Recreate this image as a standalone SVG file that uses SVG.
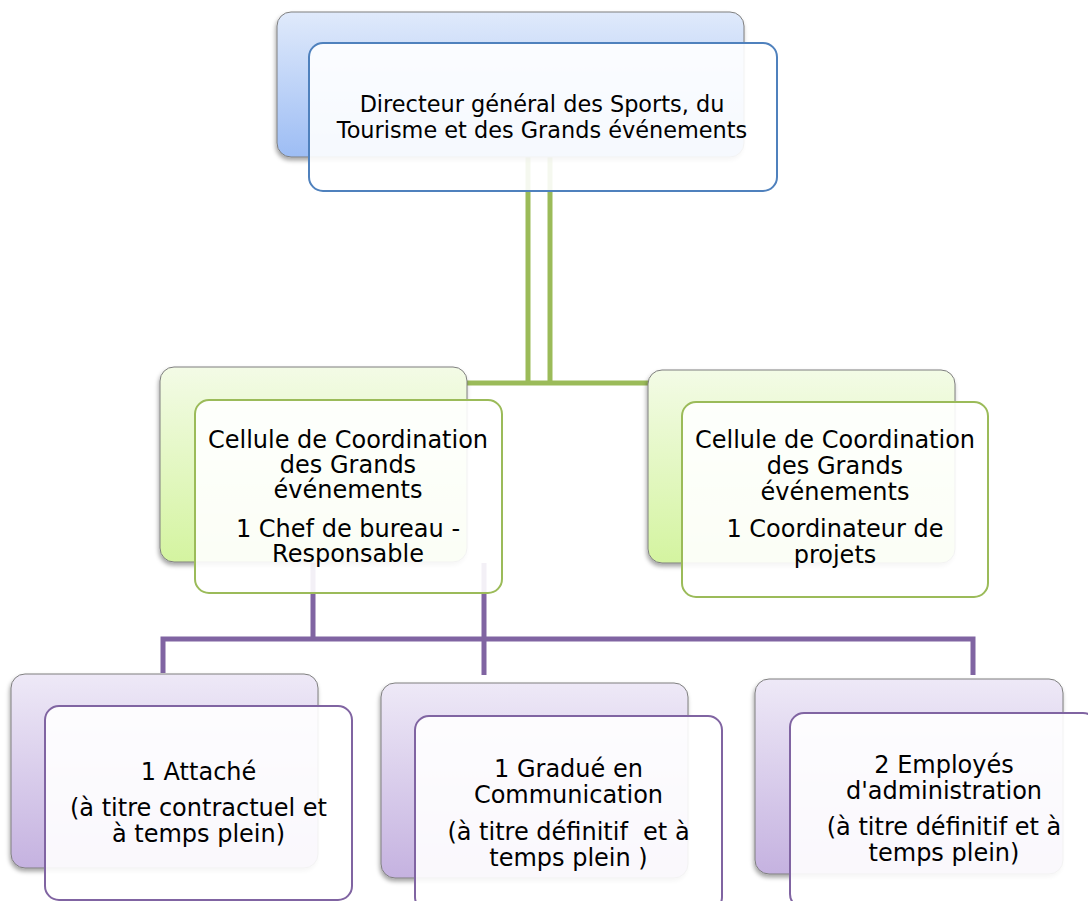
<svg xmlns="http://www.w3.org/2000/svg" width="1088" height="901" viewBox="0 0 1088 901">
<defs>
<linearGradient id="gBlue" x1="0" y1="0" x2="0" y2="1"><stop offset="0" stop-color="#e0eafb"/><stop offset="1" stop-color="#9dbdf4"/></linearGradient>
<linearGradient id="gGreen" x1="0" y1="0" x2="0" y2="1"><stop offset="0" stop-color="#f3fbe6"/><stop offset="1" stop-color="#d4f4a0"/></linearGradient>
<linearGradient id="gPurple" x1="0" y1="0" x2="0" y2="1"><stop offset="0" stop-color="#eee9f7"/><stop offset="1" stop-color="#c5b2e0"/></linearGradient>
<filter id="sh" x="-10%" y="-10%" width="120%" height="130%"><feDropShadow dx="-1" dy="3" stdDeviation="2" flood-color="#000" flood-opacity="0.35"/></filter>
<style>
.back{stroke:#7f7f7f;stroke-width:1;filter:url(#sh)}
.front{fill:#fff;fill-opacity:0.9;stroke-width:2}
.b{stroke:#4f81bd}.g{stroke:#9bbb59}.p{stroke:#8064a2}
.lg{stroke:#9bbb59;stroke-width:5;fill:none}
.lp{stroke:#8064a2;stroke-width:5;fill:none}
text{font-family:"DejaVu Sans","Verdana",sans-serif;font-size:24px;fill:#000;text-anchor:middle}
.t1{font-size:22.4px}
</style>
</defs>
<rect width="1088" height="901" fill="#fff"/>
<g id="connectors">
<path class="lg" d="M528,157 V383 M550,157 V383 M467,383 H648"/>
<path class="lp" d="M313,563 V639 M484,563 V675 M163,673 V639 H973 V675"/>
</g>
<g id="n-directeur">
<rect class="back" x="277" y="12" width="467" height="145" rx="14" fill="url(#gBlue)"/>
<rect class="front b" x="309" y="43" width="468" height="148" rx="14"/>
<text class="t1" x="542" y="112">Directeur général des Sports, du</text>
<text class="t1" x="542" y="138">Tourisme et des Grands événements</text>
</g>
<g id="n-cellule1">
<rect class="back" x="160" y="367" width="307" height="195" rx="14" fill="url(#gGreen)"/>
<rect class="front g" x="195" y="400" width="307" height="193" rx="14"/>
<text x="348" y="448">Cellule de Coordination</text>
<text x="348" y="473">des Grands</text>
<text x="348" y="498">événements</text>
<text x="348" y="537">1 Chef de bureau -</text>
<text x="348" y="562">Responsable</text>
</g>
<g id="n-cellule2">
<rect class="back" x="648" y="370" width="307" height="193" rx="14" fill="url(#gGreen)"/>
<rect class="front g" x="682" y="402" width="306" height="195" rx="14"/>
<text x="835" y="448">Cellule de Coordination</text>
<text x="835" y="474">des Grands</text>
<text x="835" y="500">événements</text>
<text x="835" y="537">1 Coordinateur de</text>
<text x="835" y="563">projets</text>
</g>
<g id="n-attache">
<rect class="back" x="11" y="674" width="307" height="194" rx="14" fill="url(#gPurple)"/>
<rect class="front p" x="45" y="706" width="307" height="194" rx="14"/>
<text x="198.5" y="780">1 Attaché</text>
<text x="198.5" y="816">(à titre contractuel et</text>
<text x="198.5" y="842">à temps plein)</text>
</g>
<g id="n-gradue">
<rect class="back" x="381" y="683" width="307" height="195" rx="14" fill="url(#gPurple)"/>
<rect class="front p" x="415" y="716" width="307" height="195" rx="14"/>
<text x="568.5" y="777">1 Gradué en</text>
<text x="568.5" y="803">Communication</text>
<text x="568.5" y="840" xml:space="preserve">(à titre définitif  et à</text>
<text x="568.5" y="866">temps plein )</text>
</g>
<g id="n-employes">
<rect class="back" x="755" y="679" width="308" height="195" rx="14" fill="url(#gPurple)"/>
<rect class="front p" x="790" y="713" width="307" height="195" rx="14"/>
<text x="944" y="773">2 Employés</text>
<text x="944" y="799">d'administration</text>
<text x="944" y="835">(à titre définitif et à</text>
<text x="944" y="861">temps plein)</text>
</g>
</svg>
